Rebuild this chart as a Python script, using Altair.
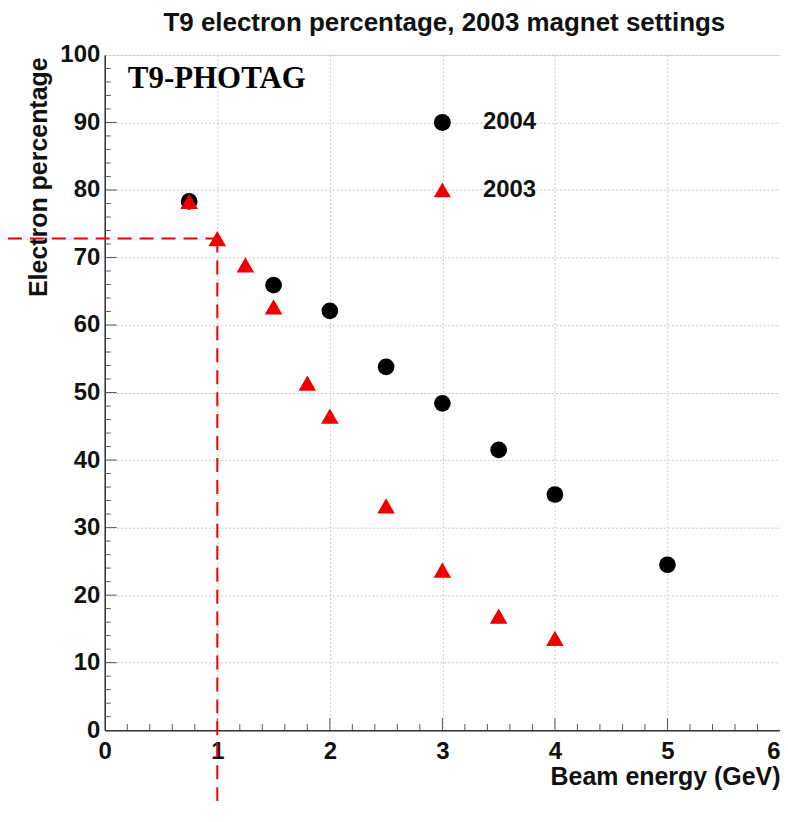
import altair as alt
import pandas as pd

# --- data ---
e2004 = [0.75, 1.5, 2.0, 2.5, 3.0, 3.5, 4.0, 5.0]
p2004 = [78.3, 65.9, 62.1, 53.8, 48.4, 41.5, 34.9, 24.5]

e2003 = [0.75, 1.0, 1.25, 1.5, 1.8, 2.0, 2.5, 3.0, 3.5, 4.0]
p2003 = [78.3, 72.8, 68.9, 62.7, 51.4, 46.5, 33.2, 23.7, 16.9, 13.6]

# legend entries (placed inside the frame, ROOT style)
leg_labels = ["2004", "2003"]
leg_x = [3.0, 3.0]
leg_text_x = [3.36, 3.36]
leg_y = [90.0, 80.0]

# cut annotation (dashed red lines)
cut_e = 1.0
cut_p = 72.8
cut_left = -0.86
cut_bottom = -13.4

title_text = "T9 electron percentage, 2003 magnet settings"
tag_text = "T9-PHOTAG"

# tick positions
x_minor = [0.2, 0.4, 0.6, 0.8, 1.2, 1.4, 1.6, 1.8, 2.2, 2.4, 2.6, 2.8,
           3.2, 3.4, 3.6, 3.8, 4.2, 4.4, 4.6, 4.8, 5.2, 5.4, 5.6, 5.8]
x_major = [1, 2, 3, 4, 5]
y_minor = [2, 4, 6, 8, 12, 14, 16, 18, 22, 24, 26, 28, 32, 34, 36, 38,
           42, 44, 46, 48, 52, 54, 56, 58, 62, 64, 66, 68, 72, 74, 76, 78,
           82, 84, 86, 88, 92, 94, 96, 98]
y_major = [10, 20, 30, 40, 50, 60, 70, 80, 90]

W, H = 677, 677
FONT = "Liberation Sans"

xs = alt.Scale(domain=[0, 6], nice=False, zero=False)
ys = alt.Scale(domain=[0, 100], nice=False, zero=False)

df04 = pd.DataFrame({"e": e2004, "p": p2004})
df03 = pd.DataFrame({"e": e2003, "p": p2003})

xaxis = alt.Axis(
    values=[0, 1, 2, 3, 4, 5, 6], format="d", title="Beam energy (GeV)",
    ticks=False, tickSize=0, labelPadding=9,
    labelAlign=alt.ExprRef(expr="datum.value == 6 ? 'right' : 'center'"),
    labelFont=FONT, labelFontSize=24, labelFontWeight="bold", labelColor="#111",
    titleFont=FONT, titleFontSize=25, titleFontWeight="bold", titleColor="#111",
    titleAnchor="end", titleAlign="right", titleX=W, titleY=54,
    titleBaseline="alphabetic",
    grid=True, gridColor="#c8c8c8", gridDash=[2, 2], gridWidth=1,
    domainColor="#333", domainWidth=1.5, labelFlush=False,
)
yaxis = alt.Axis(
    values=[0, 10, 20, 30, 40, 50, 60, 70, 80, 90, 100], format="d",
    title="Electron percentage",
    ticks=False, tickSize=0, labelPadding=5,
    labelFont=FONT, labelFontSize=24, labelFontWeight="bold", labelColor="#111",
    titleFont=FONT, titleFontSize=25, titleFontWeight="bold", titleColor="#111",
    titleAngle=-90, titleAlign="right", titleAnchor="end", titleX=-58, titleY=2,
    titleBaseline="alphabetic",
    grid=True, gridColor="#c8c8c8", gridDash=[2, 2], gridWidth=1,
    domainColor="#333", domainWidth=1.5, labelFlush=False,
)

base04 = alt.Chart(df04)

# axes carrier layer (invisible points)
axes_layer = base04.mark_point(opacity=0).encode(
    x=alt.X("e:Q", scale=xs, axis=xaxis),
    y=alt.Y("p:Q", scale=ys, axis=yaxis),
)

# inner ticks
xmin_df = pd.DataFrame({"t": x_minor})
xmaj_df = pd.DataFrame({"t": x_major})
ymin_df = pd.DataFrame({"t": y_minor})
ymaj_df = pd.DataFrame({"t": y_major})

tick_style = dict(color="#555", strokeWidth=1)
xminor_l = alt.Chart(xmin_df).mark_rule(**tick_style).encode(
    x=alt.X("t:Q", scale=xs), y=alt.value(H), y2=alt.value(H - 6))
xmajor_l = alt.Chart(xmaj_df).mark_rule(**tick_style).encode(
    x=alt.X("t:Q", scale=xs), y=alt.value(H), y2=alt.value(H - 12))
yminor_l = alt.Chart(ymin_df).mark_rule(**tick_style).encode(
    y=alt.Y("t:Q", scale=ys), x=alt.value(0), x2=alt.value(6))
ymajor_l = alt.Chart(ymaj_df).mark_rule(**tick_style).encode(
    y=alt.Y("t:Q", scale=ys), x=alt.value(0), x2=alt.value(12))

# data points
pts04 = base04.mark_point(shape="circle", filled=True, color="#000", size=280, opacity=1).encode(
    x=alt.X("e:Q", scale=xs), y=alt.Y("p:Q", scale=ys))
pts03 = alt.Chart(df03).mark_point(shape="triangle-up", filled=True, color="#ee0000", size=310, opacity=1).encode(
    x=alt.X("e:Q", scale=xs), y=alt.Y("p:Q", scale=ys))

# legend
leg_df = pd.DataFrame({"label": leg_labels, "x": leg_x, "tx": leg_text_x, "y": leg_y,
                       "shape": ["circle", "triangle-up"], "col": ["#000", "#ee0000"]})
leg_sym = alt.Chart(leg_df).mark_point(filled=True, opacity=1, size=290).encode(
    x=alt.X("x:Q", scale=xs), y=alt.Y("y:Q", scale=ys),
    shape=alt.Shape("shape:N", scale=None), color=alt.Color("col:N", scale=None))
leg_txt = alt.Chart(leg_df).mark_text(align="left", baseline="middle", font=FONT,
                                      fontSize=24, fontWeight="bold", color="#111").encode(
    x=alt.X("tx:Q", scale=xs), y=alt.Y("y:Q", scale=ys), text="label:N")

# T9-PHOTAG label
tag_df = pd.DataFrame({"x": [0.205], "y": [95.1], "t": [tag_text]})
tag = alt.Chart(tag_df).mark_text(align="left", baseline="alphabetic", font="Liberation Serif",
                                  fontSize=31, fontWeight="bold", color="#000").encode(
    x=alt.X("x:Q", scale=xs), y=alt.Y("y:Q", scale=ys), text="t:N")

# chart title (as a text mark above the frame)
title_df = pd.DataFrame({"t": [title_text]})
title_l = alt.Chart(title_df).mark_text(align="center", baseline="alphabetic", font=FONT,
                                        fontSize=26, fontWeight="bold", color="#111").encode(
    x=alt.value(W / 2 + 2), y=alt.value(-24), text="t:N")

# dashed cut lines
hcut = pd.DataFrame({"x": [cut_left], "x2": [cut_e], "y": [cut_p]})
vcut = pd.DataFrame({"x": [cut_e], "y": [cut_p], "y2": [cut_bottom]})
hline = alt.Chart(hcut).mark_rule(color="#ee0000", strokeWidth=2, strokeDash=[14, 8]).encode(
    x=alt.X("x:Q", scale=xs), x2="x2:Q", y=alt.Y("y:Q", scale=ys))
vline = alt.Chart(vcut).mark_rule(color="#ee0000", strokeWidth=2, strokeDash=[14, 8]).encode(
    x=alt.X("x:Q", scale=xs), y=alt.Y("y:Q", scale=ys), y2="y2:Q")

chart = alt.layer(
    axes_layer, xminor_l, xmajor_l, yminor_l, ymajor_l,
    hline, vline, pts04, pts03, leg_sym, leg_txt, tag, title_l,
).properties(
    width=W, height=H,
    autosize=alt.AutoSizeParams(type="none"),
    padding={"left": 97, "top": 46, "right": 0, "bottom": 74},
).configure_view(
    stroke="#666", strokeWidth=1.5,
).configure(background="white")

chart.save("out.html", embed_options={"renderer": "svg", "actions": False})
